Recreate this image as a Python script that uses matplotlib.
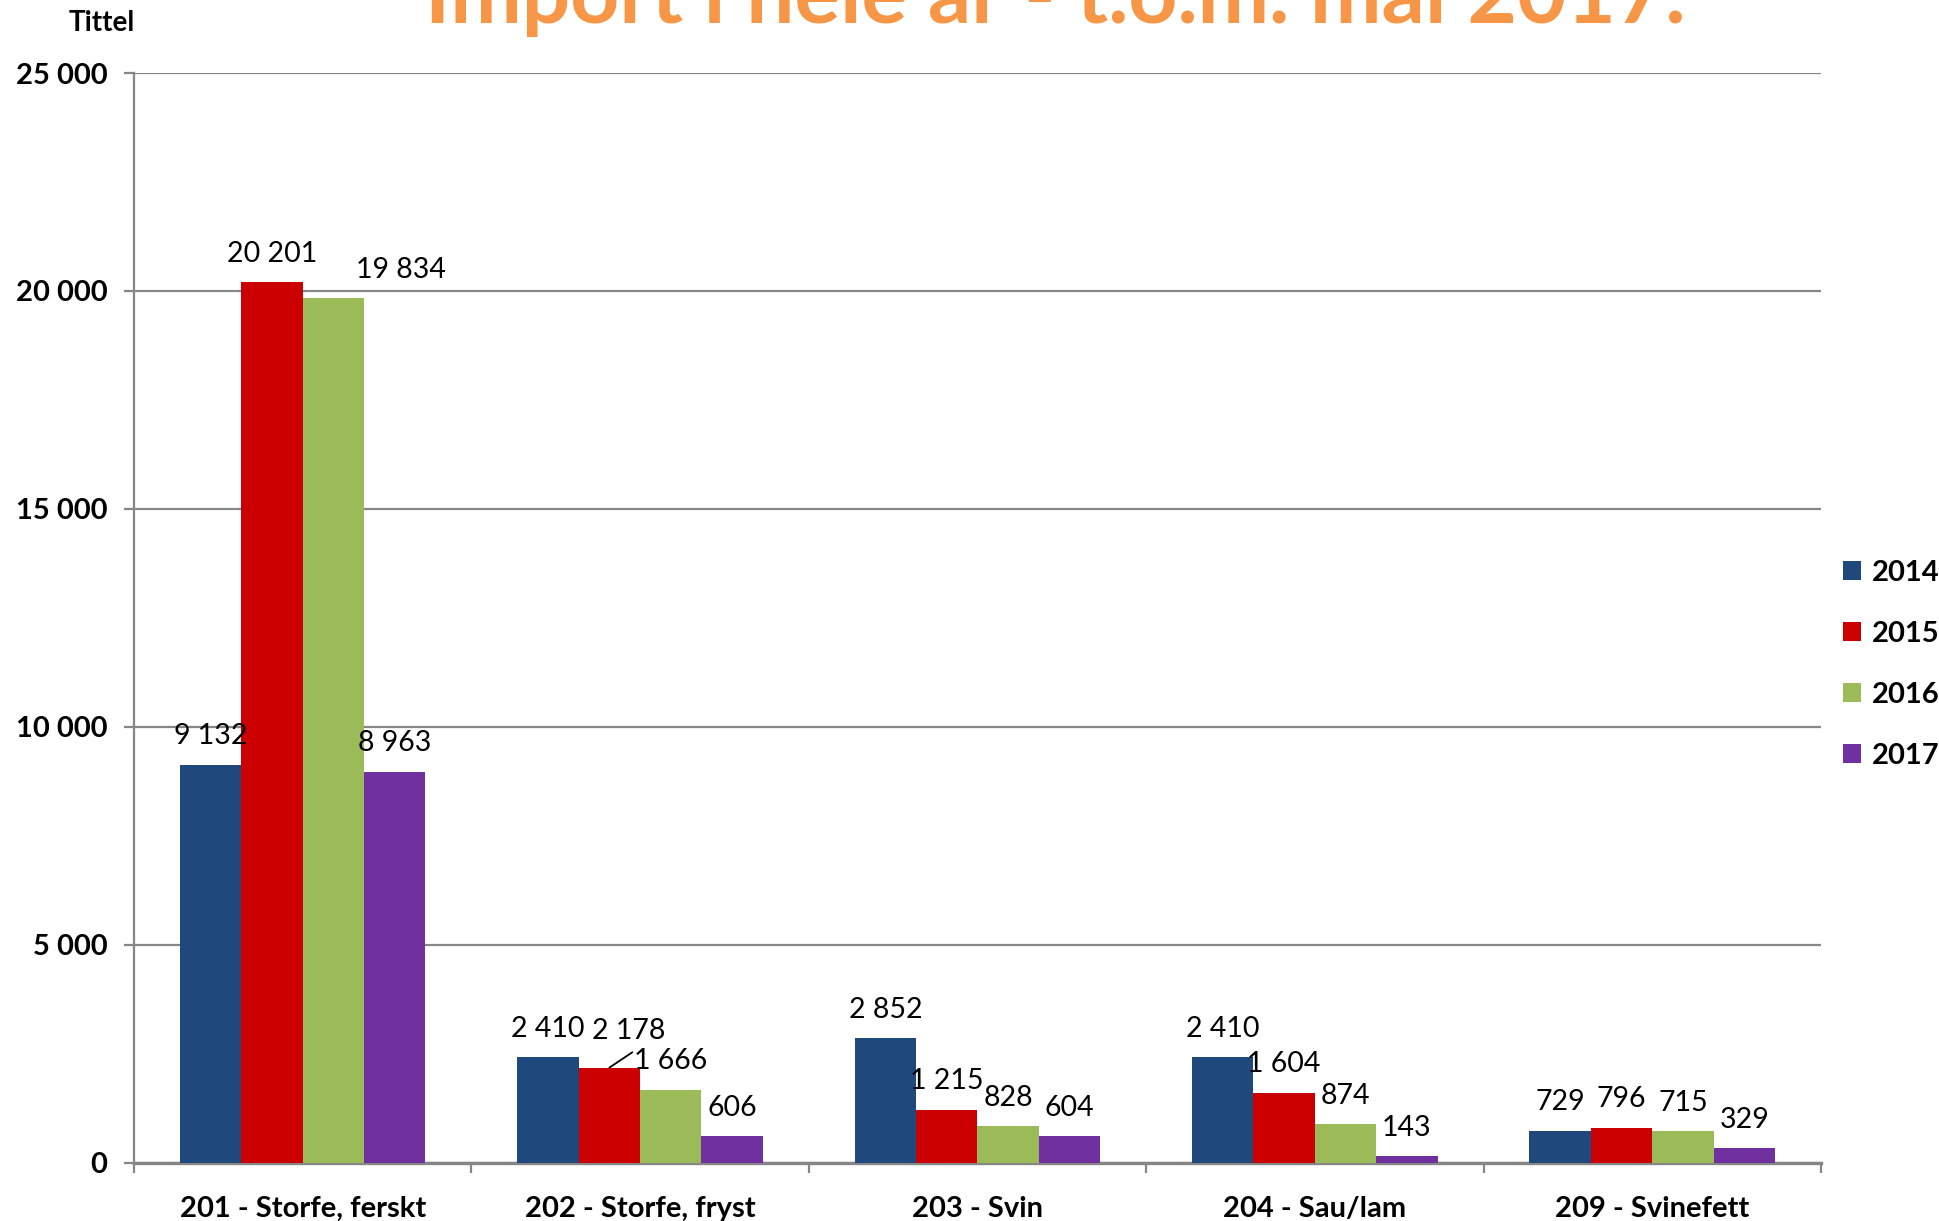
import matplotlib.pyplot as plt
import matplotlib.ticker as mticker
import numpy as np

# data
categories = ["201 - Storfe, ferskt", "202 - Storfe, fryst", "203 - Svin",
              "204 - Sau/lam", "209 - Svinefett"]
years = ["2014", "2015", "2016", "2017"]
v2014 = [9132, 2410, 2852, 2410, 729]
v2015 = [20201, 2178, 1215, 1604, 796]
v2016 = [19834, 1666, 828, 874, 715]
v2017 = [8963, 606, 604, 143, 329]
series = [v2014, v2015, v2016, v2017]
colors = ["#1F497D", "#CC0000", "#9BBB59", "#7030A0"]

plt.rcParams['font.family'] = ['Lato', 'DejaVu Sans']
GRID = "#868686"


def fmt(v):
    return f"{v:,}".replace(",", " ")


fig = plt.figure(figsize=(19.39, 12.21), dpi=100)
ax = fig.add_axes([0.0691, 0.0479, 0.8700, 0.8923])

x = np.arange(len(categories))
w = 0.182
# label nudges (points) for the few labels Excel moved
nudge = {(2, 0): (49, 0), (1, 1): (14, 6)}

for i, (vals, col, yr) in enumerate(zip(series, colors, years)):
    pos = x + (i - 1.5) * w
    ax.bar(pos, vals, width=w, color=col, label=yr, linewidth=0, zorder=3)
    for j, (p, v) in enumerate(zip(pos, vals)):
        dx, dy = nudge.get((i, j), (0, 0))
        ax.annotate(fmt(v), (p, v), xytext=(dx, 20.5 + dy), textcoords="offset points",
                    ha="center", va="center", fontsize=20.5, color="black", zorder=4)

# leader line for 2 178 label
ax.annotate("", (x[1] - 0.5 * w, v2015[1]), xytext=(16.5, 11), textcoords="offset points",
            arrowprops=dict(arrowstyle="-", color="black", lw=1.3, shrinkA=0, shrinkB=0))

ax.set_xlim(-0.5, 4.5)
ax.set_ylim(0, 25000)
ax.set_yticks(np.arange(0, 25001, 5000))
ax.yaxis.set_major_formatter(mticker.FuncFormatter(lambda v, p: fmt(int(v))))
ax.grid(axis="y", color=GRID, lw=1.6, zorder=0)

ax.set_xticks(x)
ax.set_xticklabels(categories, fontweight="bold", fontsize=21)
ax.set_xticks(np.arange(-0.5, 4.51, 1), minor=True)
ax.tick_params(axis="x", which="major", length=0, pad=24)
ax.tick_params(axis="x", which="minor", length=7, width=1.6, color=GRID)
ax.tick_params(axis="y", length=7, width=1.6, color=GRID, pad=12, labelsize=21)
for lab in ax.get_yticklabels():
    lab.set_fontweight("bold")

for s in ["top", "right"]:
    ax.spines[s].set_visible(False)
ax.spines["left"].set_color(GRID)
ax.spines["left"].set_linewidth(1.6)
ax.spines["bottom"].set_color(GRID)
ax.spines["bottom"].set_linewidth(2.4)

leg = fig.legend(loc="center left", bbox_to_anchor=(0.937, 0.456), frameon=False,
                 handlelength=0.6, handleheight=0.6, handletextpad=0.4,
                 labelspacing=1.2, prop=dict(weight="bold", size=21))

fig.text(0.5444, 1 - 23 / 1221, "Import i hele år - t.o.m. mai 2017.", ha="center",
         va="baseline", fontsize=61.5, fontweight="bold", color="#F79646")
fig.text(0.0355, 1 - 23 / 1221, "Tittel", ha="left", va="center",
         fontsize=20, fontweight="bold")

fig.savefig("out.png", dpi=100)
